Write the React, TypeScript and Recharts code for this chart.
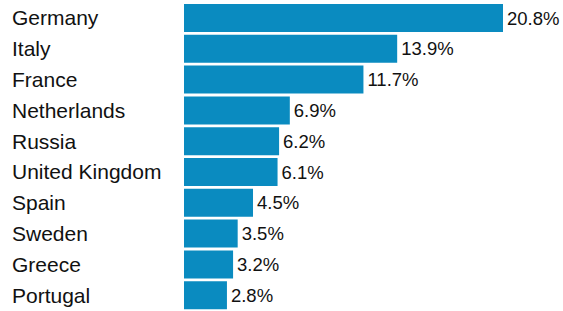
import { BarChart, Bar, XAxis, YAxis, LabelList } from "recharts";

const countries = [
  "Germany",
  "Italy",
  "France",
  "Netherlands",
  "Russia",
  "United Kingdom",
  "Spain",
  "Sweden",
  "Greece",
  "Portugal",
];
const shares = [20.8, 13.9, 11.7, 6.9, 6.2, 6.1, 4.5, 3.5, 3.2, 2.8];

const data = countries.map((name, i) => ({ name, value: shares[i] }));

const FONT = "'Liberation Sans', Arial, sans-serif";

function CountryTick({ y, payload }: any) {
  return (
    <text x={12} y={y} dy={7} textAnchor="start" fill="#111" fontSize={21} fontFamily={FONT}>
      {payload.value}
    </text>
  );
}

export default function App() {
  return (
    <div style={{ position: "absolute", left: 0, top: 0, background: "#fff" }}>
      <BarChart
        width={563}
        height={311}
        data={data}
        layout="vertical"
        margin={{ top: 3, right: 60, bottom: 0, left: 0 }}
      >
        <XAxis type="number" hide domain={[0, "dataMax"]} />
        <YAxis
          type="category"
          dataKey="name"
          width={184}
          axisLine={false}
          tickLine={false}
          tick={<CountryTick />}
          interval={0}
        />
        <Bar dataKey="value" fill="#0a8bc0" barSize={28} isAnimationActive={false}>
          <LabelList
            dataKey="value"
            position="right"
            offset={4}
            formatter={(v: any) => `${v}%`}
            style={{ fill: "#111", fontSize: 18.5, fontFamily: FONT }}
          />
        </Bar>
      </BarChart>
    </div>
  );
}
